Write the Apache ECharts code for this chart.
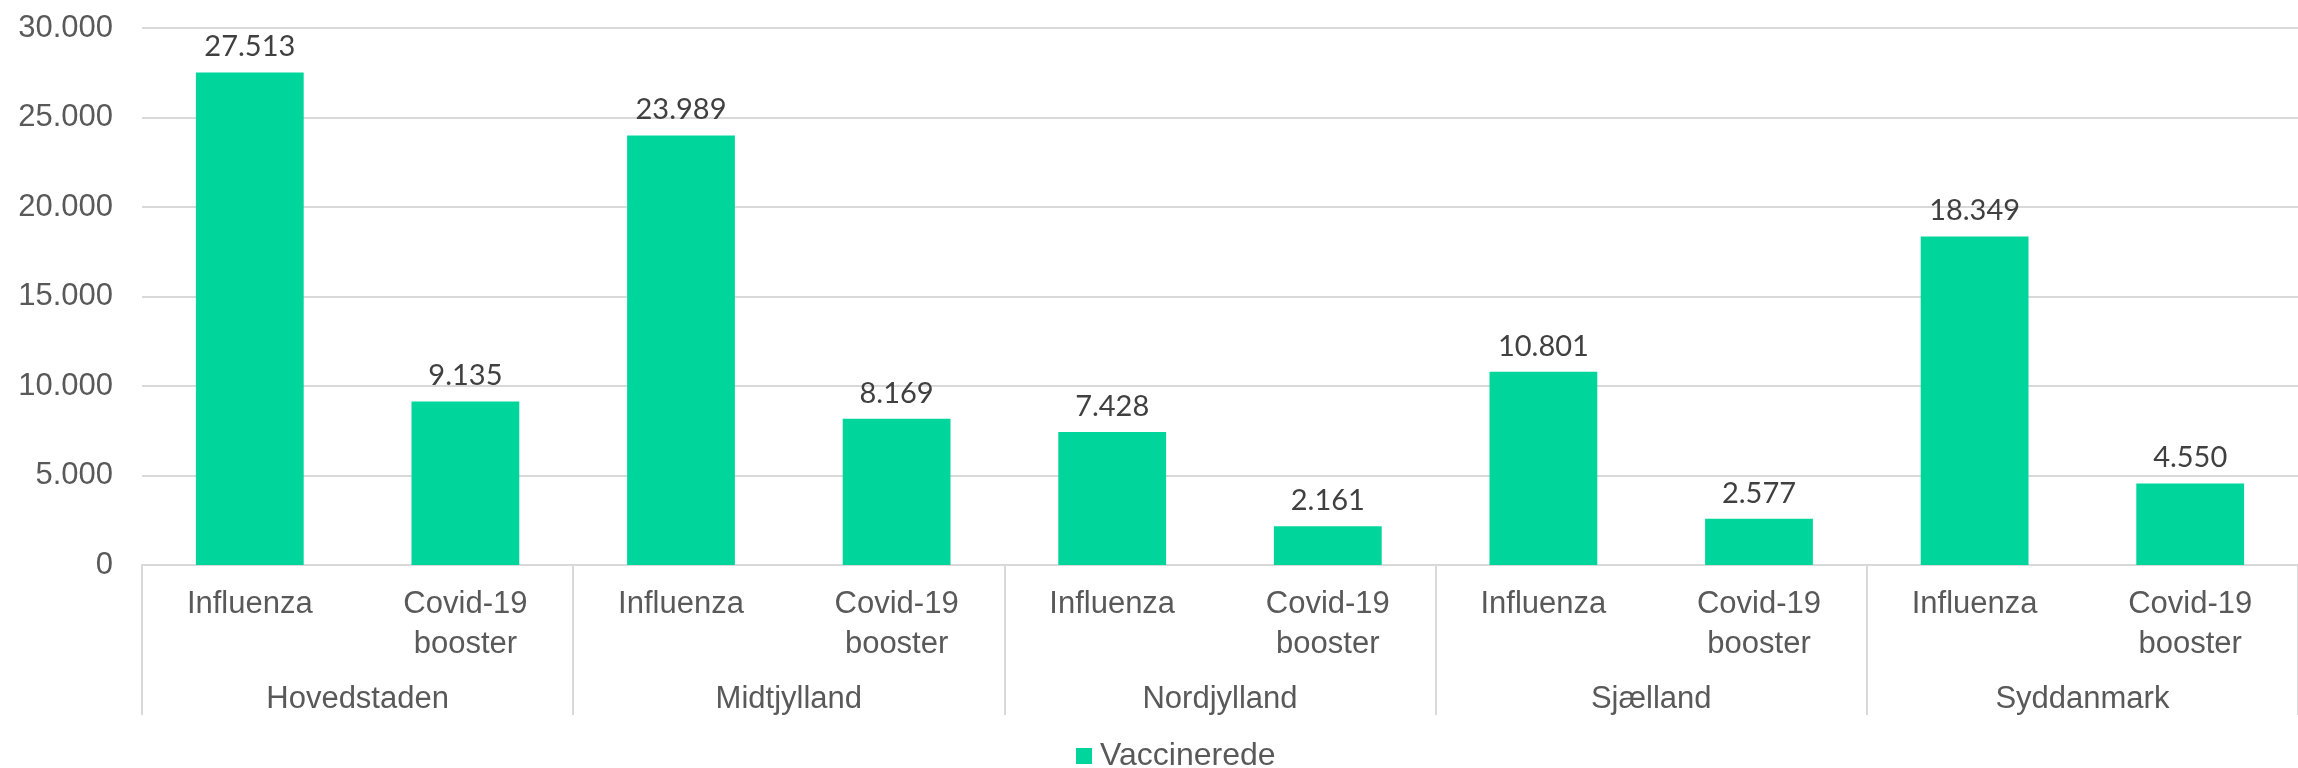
<!DOCTYPE html>
<html>
<head>
<meta charset="utf-8">
<script src="https://cdn.jsdelivr.net/npm/echarts@6/dist/echarts.min.js"></script>
<style>
  html, body { margin: 0; padding: 0; background: #fff; }
  #chart { width: 2298px; height: 768px; }
</style>
</head>
<body>
<div id="chart"></div>
<script>
  // data
  const regions = ['Hovedstaden', 'Midtjylland', 'Nordjylland', 'Sjælland', 'Syddanmark'];
  const vaccines = ['Influenza', 'Covid-19\nbooster'];
  const influenza = [27513, 23989, 7428, 10801, 18349];
  const booster = [9135, 8169, 2161, 2577, 4550];
  const seriesName = 'Vaccinerede';

  const green = '#00D69B';
  const textColor = '#595959';
  const lineColor = '#D9D9D9';

  // thousands separator as in Danish
  const fmt = v => String(v).replace(/\B(?=(\d{3})+(?!\d))/g, '.');

  // flat category list: region x vaccine
  const categories = [];
  const values = [];
  regions.forEach((r, i) => {
    categories.push(vaccines[0], vaccines[1]);
    values.push(influenza[i], booster[i]);
  });

  const chart = echarts.init(document.getElementById('chart'));

  const getDefaultOptions = () => ({
    animation: false,
    grid: { left: 142, right: 0, top: 28, bottom: 203 },
    legend: {
      data: [seriesName],
      top: 740,
      left: 1076,
      padding: 0,
      itemWidth: 16,
      itemHeight: 16,
      icon: 'rect',
      textStyle: {
        color: textColor,
        fontSize: 32,
        padding: [0, 0, 0, 3],
        fontFamily: 'Liberation Sans'
      }
    },
    xAxis: [
      {
        type: 'category',
        data: categories,
        axisLine: { lineStyle: { color: lineColor, width: 2 } },
        axisTick: { show: false },
        axisLabel: {
          interval: 0,
          color: textColor,
          fontSize: 31,
          lineHeight: 40,
          margin: 19,
          fontFamily: 'Liberation Sans'
        }
      },
      {
        type: 'category',
        position: 'bottom',
        data: regions,
        axisLine: { show: false },
        axisTick: {
          show: true,
          interval: 0,
          length: 150,
          lineStyle: { color: lineColor, width: 2 }
        },
        axisLabel: {
          interval: 0,
          color: textColor,
          fontSize: 31,
          margin: 119,
          fontFamily: 'Liberation Sans'
        }
      }
    ],
    yAxis: {
      type: 'value',
      min: 0,
      max: 30000,
      interval: 5000,
      axisLine: { show: false },
      axisTick: { show: false },
      splitLine: { lineStyle: { color: lineColor, width: 2 } },
      axisLabel: {
        color: textColor,
        fontSize: 31,
        margin: 29,
        fontFamily: 'Liberation Sans',
        formatter: v => fmt(v)
      }
    },
    series: [
      {
        name: seriesName,
        type: 'bar',
        xAxisIndex: 0,
        data: values,
        barWidth: '50%',
        itemStyle: { color: green },
        label: {
          show: true,
          position: 'top',
          distance: 11,
          color: '#404040',
          fontSize: 29,
          fontFamily: 'Lato',
          formatter: p => fmt(p.value)
        }
      }
    ]
  });

  chart.setOption(getDefaultOptions());
</script>
</body>
</html>
